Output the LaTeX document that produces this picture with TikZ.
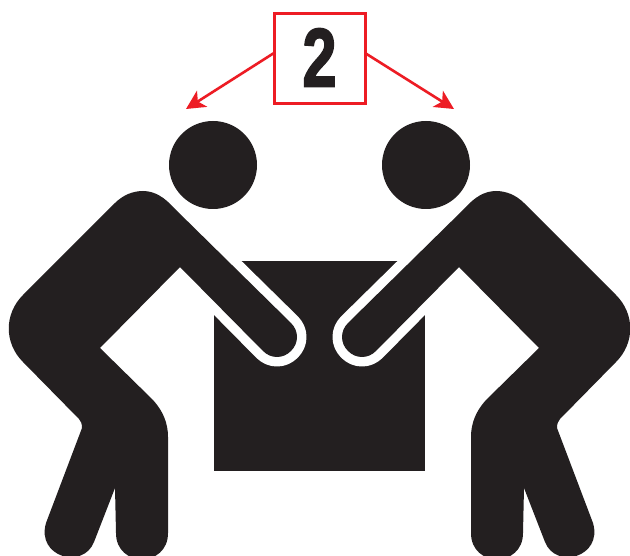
\documentclass[tikz,border=0pt]{standalone}
\usepackage{fontspec}
\usepackage{graphicx}
\newfontfamily\numfont[FakeBold=2.2]{Liberation Sans Bold}
\usetikzlibrary{arrows.meta}
\definecolor{ink}{HTML}{231F20}
\definecolor{signred}{HTML}{ED1C24}
\tikzset{
  inkfill/.style={fill=ink,draw=none},
  halo/.style={draw=white,line width=19pt,line join=round},
  countbox/.style={draw=signred,line width=3pt,fill=white,minimum width=91pt,minimum height=90pt,inner sep=0pt,outer sep=0pt},
  callout/.style={draw=signred,line width=2.6pt,-{Stealth[length=19pt,width=19pt,inset=5pt]}}
}
\newcommand{\figureoutline}{
      (143,191) .. controls (155,191) and (165,198) .. (173,207)
      -- (291,323)
      .. controls (299,331) and (299,343) .. (291,351)
      .. controls (283,359) and (271,359) .. (263,351)
      -- (180,267) -- (100,348) -- (153,400)
      .. controls (163,411) and (168,423) .. (168,437)
      -- (168,533)
      .. controls (168,568) and (116,568) .. (116,533)
      -- (115,488) -- (94,542)
      .. controls (83,570) and (36,557) .. (46,523)
      -- (82,428)
      .. controls (82,424) and (81,421) .. (79,419)
      -- (23,362)
      .. controls (4,343) and (4,314) .. (23,295)
      -- (115,203)
      .. controls (123,195) and (133,191) .. (143,191)
      -- cycle}
\begin{document}
\begin{tikzpicture}[x=1pt,y=-1pt]
\useasboundingbox (0,0) rectangle (630,556);
\fill[white] (0,0) rectangle (630,556);
\fill[inkfill] (214,261) rectangle (425,471);
\begin{scope}
  \draw[halo] \figureoutline;
  \fill[inkfill] \figureoutline;
\end{scope}
\begin{scope}[shift={(639,0)},xscale=-1]
  \draw[halo] \figureoutline;
  \fill[inkfill] \figureoutline;
\end{scope}
\fill[inkfill] (213,165) circle (44);
\fill[inkfill] (426,165) circle (44);
\node[countbox] (count) at (319.5,59) {};
\node[text=ink,inner sep=0pt] (numeral) at (319.5,57.5) {\scalebox{0.74}[1]{\fontsize{83}{83}\numfont 2}};
\coordinate (tipl) at (186,109);
\coordinate (tipr) at (454,109);
\coordinate (startl) at (count.west |- 0,53);
\coordinate (startr) at (count.east |- 0,53);
\draw[callout] (startl) -- (tipl);
\draw[callout] (startr) -- (tipr);
\end{tikzpicture}
\end{document}
